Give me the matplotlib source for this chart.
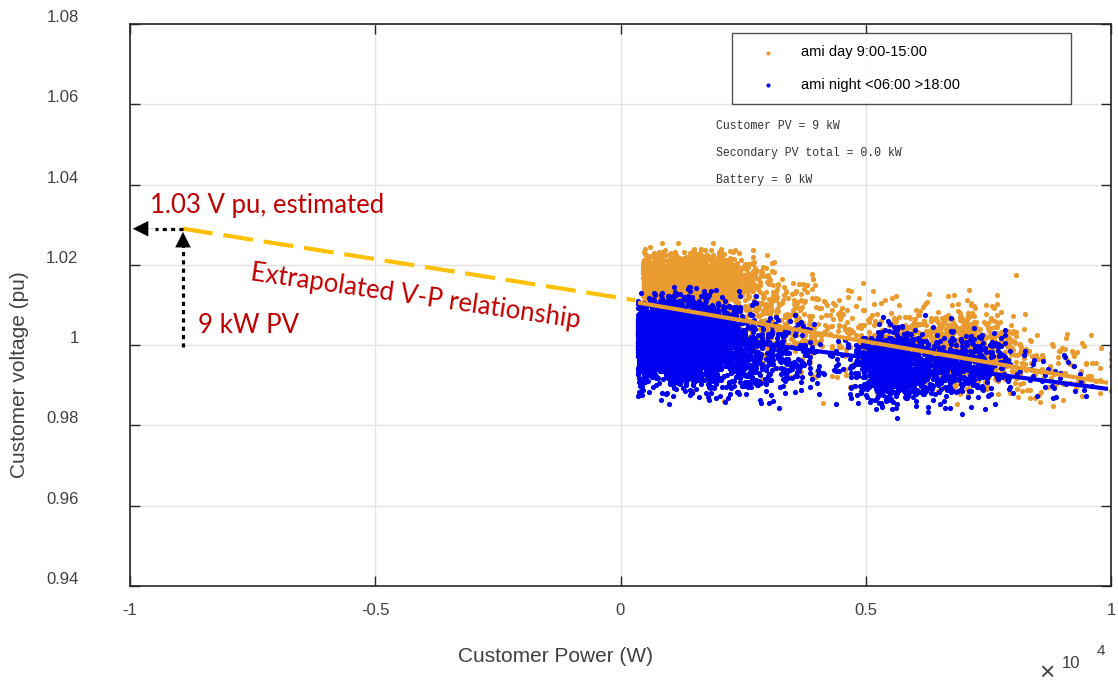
import numpy as np
import matplotlib
matplotlib.use("Agg")
import matplotlib.pyplot as plt
from matplotlib.transforms import ScaledTranslation

plt.rcParams["font.family"] = ["Liberation Sans", "DejaVu Sans"]

# scatter clouds, read off the picture as blobs:
# (x centre W, x spread W, y centre pu, y spread pu, number of points)
night_blobs = [
    (1250, 560, 1.0010, 0.0045, 4200),
    (2900, 700, 0.9965, 0.0048, 450),
    (5550, 400, 0.9948, 0.0040, 900),
    (6900, 550, 0.9950, 0.0040, 450),
    (8700, 700, 0.9930, 0.0035, 40),
]
day_blobs = [
    (1450, 620, 1.0163, 0.0029, 2200),
    (3200, 750, 1.0055, 0.0055, 380),
    (5200, 650, 1.0020, 0.0055, 170),
    (6950, 600, 0.9995, 0.0048, 750),
    (8800, 700, 0.9945, 0.0045, 100),
]
night_left_edge = 350
day_left_edge = 460

# fitted lines (W, pu)
day_fit_x = [357, 9939]
day_fit_y = [1.0106, 0.9906]
night_fit_x = [357, 9939]
night_fit_y = [1.0043, 0.9891]
extrap_x = [-8920, 300]
extrap_y = [1.029, 1.0112]

pv_x = -8920
pv_y0 = 0.9995
est_v = 1.029

legend_labels = ["ami day 9:00-15:00", "ami night <06:00 >18:00"]
info_lines = ["Customer PV = 9 kW", "Secondary PV total = 0.0 kW", "Battery = 0 kW"]
xticks = [-10000, -5000, 0, 5000, 10000]
xtick_labels = ["-1", "-0.5", "0", "0.5", "1"]
yticks = [0.94, 0.96, 0.98, 1.0, 1.02, 1.04, 1.06, 1.08]
ytick_labels = ["0.94", "0.96", "0.98", "1", "1.02", "1.04", "1.06", "1.08"]

ORANGE = "#E99B2F"
BLUE = "#0000F0"
RED = "#C00000"
GREY = "#404040"

rng = np.random.default_rng(7)


def make_cloud(blobs, left):
    xs, ys = [], []
    for xc, xs_, yc, ys_, n in blobs:
        x = rng.normal(xc, xs_, n)
        x = np.where(x < left, left + np.abs(x - left) * 0.3, x)
        x = np.minimum(x, 10000)
        y = rng.normal(yc, ys_, n)
        xs.append(x)
        ys.append(y)
    return np.concatenate(xs), np.concatenate(ys)


dx, dy = make_cloud(day_blobs, day_left_edge)
nx, ny = make_cloud(night_blobs, night_left_edge)

fig = plt.figure(figsize=(11.18, 6.86), dpi=100)
ax = fig.add_axes([130 / 1118, 100 / 686, 981 / 1118, 562 / 686])

ax.scatter(dx, dy, s=14, color=ORANGE, linewidths=0, label=legend_labels[0], zorder=2)
ax.scatter(nx, ny, s=14, color=BLUE, linewidths=0, label=legend_labels[1], zorder=3)

ax.plot(day_fit_x, day_fit_y, color=ORANGE, lw=3, zorder=5, solid_capstyle="butt")
ax.plot(night_fit_x, night_fit_y, color=BLUE, lw=3, zorder=4, solid_capstyle="butt")
ax.plot(extrap_x, extrap_y, color="#FFC000", lw=3, dashes=(7.2, 2.6), zorder=6)

# dotted arrows
ax.plot([pv_x, pv_x], [pv_y0, est_v - 0.0025], color="black", lw=2.3,
        dashes=(1.3, 1.3), zorder=7)
ax.plot([pv_x, -9500], [est_v, est_v], color="black", lw=2.3,
        dashes=(1.3, 1.3), zorder=7)
head = "-|>,head_length=1.1,head_width=0.55"
ax.annotate("", xy=(pv_x, est_v - 0.0001), xytext=(pv_x, est_v - 0.003),
            arrowprops=dict(arrowstyle=head, color="black", lw=0.1), zorder=8)
ax.annotate("", xy=(-10000, est_v), xytext=(-9400, est_v),
            arrowprops=dict(arrowstyle=head, color="black", lw=0.1), zorder=8)

red_font = dict(color=RED, fontsize=18.5, family=["Lato", "DejaVu Sans"])
ax.text(-9592, 1.0329, "1.03 V pu, estimated", va="baseline", ha="left", **red_font)
ax.text(-8614, 1.0030, "9 kW PV", va="baseline", ha="left", **red_font)
ax.text(-4169, 1.0122, "Extrapolated V-P relationship", va="center", ha="center",
        rotation=-8.3, rotation_mode="anchor", **red_font)

for i, line in enumerate(info_lines):
    ax.text(0.5973, 0.818 - i * 0.0475, line, transform=ax.transAxes,
            family=["Liberation Mono", "DejaVu Sans Mono"], fontsize=8.3,
            color="#333333", va="center", ha="left")

ax.set_xlim(-10000, 10000)
ax.set_ylim(0.94, 1.08)
ax.set_xticks(xticks)
ax.set_xticklabels(xtick_labels)
ax.set_yticks(yticks)
ax.set_yticklabels(ytick_labels)
ax.tick_params(direction="in", length=7, width=1, colors="#262626",
               labelcolor=GREY, labelsize=12, top=True, right=True)
ax.tick_params(axis="y", pad=37)
ax.tick_params(axis="x", pad=12)
for lab in ax.get_yticklabels():
    lab.set_transform(lab.get_transform() + ScaledTranslation(0, 0.08, fig.dpi_scale_trans))
ax.grid(True, color="#E3E3E3", lw=1)
ax.set_axisbelow(True)
for sp in ax.spines.values():
    sp.set_color("#262626")
    sp.set_linewidth(1.2)

leg = ax.legend(loc="upper left", bbox_to_anchor=(602 / 981, 0.884, 339 / 981, 0.1),
                mode="expand", fontsize=10.5, frameon=True, fancybox=False,
                borderpad=0.85, labelspacing=1.25, handletextpad=0.6,
                handlelength=3.3, borderaxespad=0, markerscale=0.8)
leg.get_frame().set_edgecolor("#262626")
leg.get_frame().set_linewidth(1.0)
leg.set_zorder(10)

fig.text(20 / 1118, 1 - 375 / 686, "Customer voltage (pu)", rotation=90,
         fontsize=15, color=GREY, ha="center", va="center")
fig.text(555 / 1118, 1 - 657 / 686, "Customer Power (W)", fontsize=15,
         color=GREY, ha="center", va="center")
fig.text(1047 / 1118, 1 - 673 / 686, "\u00d7", fontsize=19, color=GREY,
         ha="center", va="center")
fig.text(1071 / 1118, 1 - 664 / 686, "10", fontsize=12, color=GREY,
         ha="center", va="center")
fig.text(1101 / 1118, 1 - 651 / 686, "4", fontsize=11, color=GREY,
         ha="center", va="center")

fig.savefig("out.png", dpi=100)
